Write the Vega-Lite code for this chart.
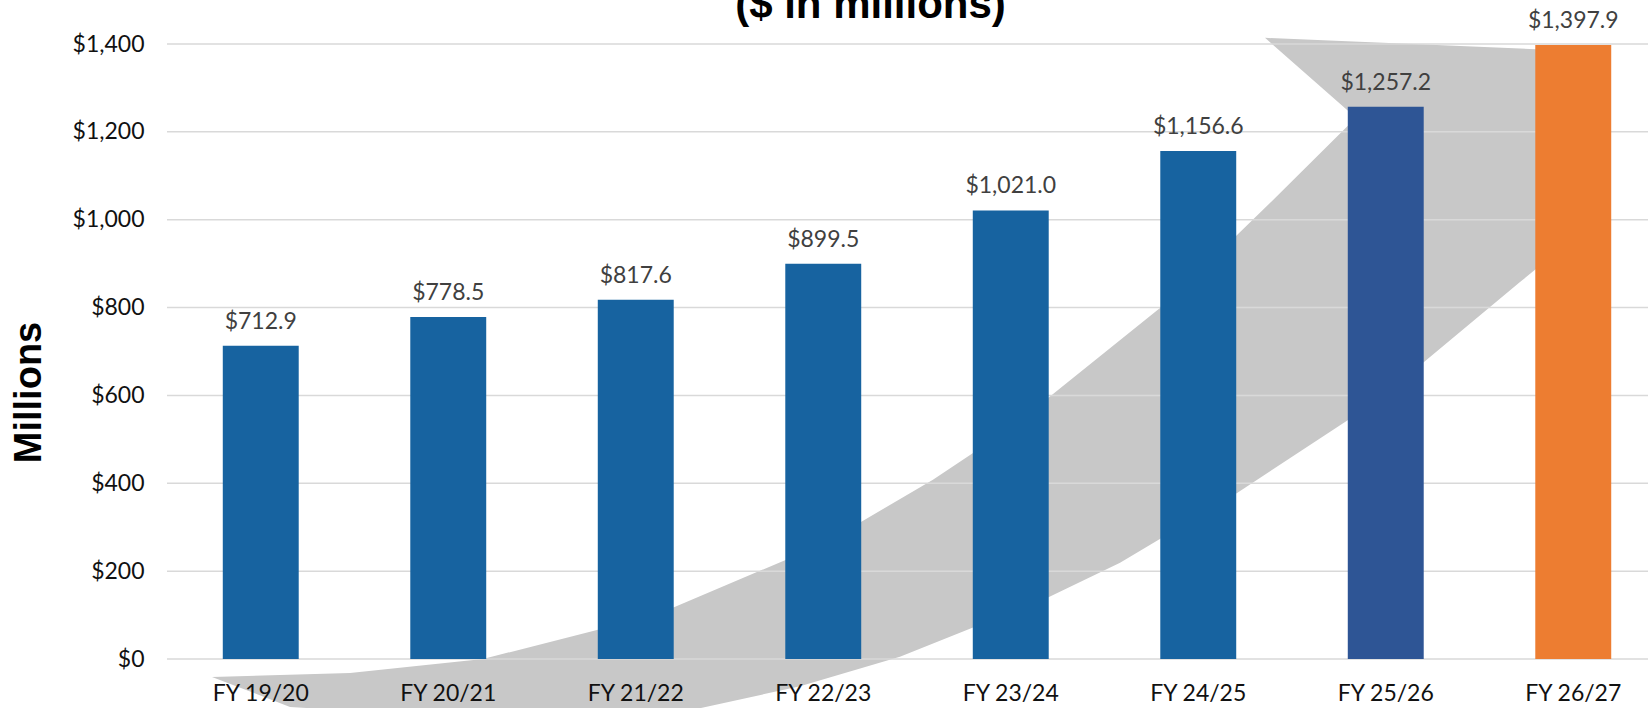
{
  "$schema": "https://vega.github.io/schema/vega-lite/v6.json",
  "width": 1481,
  "height": 615,
  "autosize": "none",
  "padding": {"left": 167, "top": 44, "right": 0, "bottom": 49},
  "background": "white",
  "title": {
    "text": "($ in millions)",
    "font": "Liberation Sans",
    "fontWeight": "bold",
    "fontSize": 42,
    "color": "#000000",
    "anchor": "middle",
    "frame": "group",
    "baseline": "alphabetic",
    "offset": 0,
    "dx": -37,
    "dy": 50
  },
  "config": {"view": {"stroke": null}},
  "datasets": {
    "bars": [
      {"fy": "FY 19/20", "value": 712.9},
      {"fy": "FY 20/21", "value": 778.5},
      {"fy": "FY 21/22", "value": 817.6},
      {"fy": "FY 22/23", "value": 899.5},
      {"fy": "FY 23/24", "value": 1021.0},
      {"fy": "FY 24/25", "value": 1156.6},
      {"fy": "FY 25/26", "value": 1257.2},
      {"fy": "FY 26/27", "value": 1397.9}
    ],
    "grid": [{"v": 0}, {"v": 200}, {"v": 400}, {"v": 600}, {"v": 800}, {"v": 1000}, {"v": 1200}, {"v": 1400}],
    "arrow": [
      {"i": 0, "ax": 0.240, "ay": -41},
      {"i": 1, "ax": 0.976, "ay": -32},
      {"i": 2, "ax": 1.685, "ay": 0},
      {"i": 3, "ax": 2.293, "ay": 66},
      {"i": 4, "ax": 2.704, "ay": 118},
      {"i": 5, "ax": 3.296, "ay": 225},
      {"i": 6, "ax": 3.701, "ay": 312},
      {"i": 7, "ax": 4.085, "ay": 408},
      {"i": 8, "ax": 4.299, "ay": 469},
      {"i": 9, "ax": 4.704, "ay": 596},
      {"i": 10, "ax": 5.301, "ay": 801},
      {"i": 11, "ax": 5.707, "ay": 965},
      {"i": 12, "ax": 5.899, "ay": 1045},
      {"i": 13, "ax": 6.341, "ay": 1232},
      {"i": 14, "ax": 5.856, "ay": 1414},
      {"i": 15, "ax": 7.643, "ay": 1382},
      {"i": 16, "ax": 7.456, "ay": 942},
      {"i": 17, "ax": 7.216, "ay": 858},
      {"i": 18, "ax": 6.704, "ay": 676},
      {"i": 19, "ax": 6.299, "ay": 544},
      {"i": 20, "ax": 5.707, "ay": 378},
      {"i": 21, "ax": 5.083, "ay": 219},
      {"i": 22, "ax": 4.704, "ay": 141},
      {"i": 23, "ax": 3.909, "ay": 5},
      {"i": 24, "ax": 3.376, "ay": -62},
      {"i": 25, "ax": 2.843, "ay": -112},
      {"i": 26, "ax": 2.309, "ay": -130},
      {"i": 27, "ax": 1.509, "ay": -134},
      {"i": 28, "ax": 0.656, "ay": -109}
    ]
  },
  "layer": [
    {
      "data": {"name": "arrow"},
      "mark": {"type": "line", "fill": "#c8c8c8", "stroke": "#c8c8c8", "strokeWidth": 0, "interpolate": "linear"},
      "encoding": {
        "x": {"field": "ax", "type": "quantitative", "scale": {"domain": [0, 8], "range": [0, 1500], "nice": false, "zero": false}, "axis": null},
        "y": {
          "field": "ay", "type": "quantitative", "scale": {"domain": [0, 1400], "nice": false, "zero": false},
          "axis": {
            "title": "Millions", "titleFont": "Liberation Sans", "titleFontWeight": "bold", "titleFontSize": 38, "titleColor": "#000000",
            "titleAngle": 270, "titleX": -138, "titleY": 348, "titleAlign": "center", "titleBaseline": "middle",
            "values": [0, 200, 400, 600, 800, 1000, 1200, 1400], "format": "$,.0f",
            "domain": false, "ticks": false, "grid": false,
            "labelFont": "Lato", "labelFontSize": 23, "labelColor": "#111111", "labelPadding": 23
          }
        },
        "order": {"field": "i", "type": "quantitative"}
      }
    },
    {
      "layer": [
        {
          "data": {"name": "grid"},
          "mark": {"type": "rule", "color": "#d9d9d9", "strokeWidth": 1.5},
          "encoding": {
            "y": {"field": "v", "type": "quantitative"}
          }
        },
        {
          "data": {"name": "bars"},
          "mark": {"type": "bar"},
          "encoding": {
            "x": {
              "field": "fy", "type": "nominal", "sort": null,
              "scale": {"range": [0, 1500], "paddingInner": 0.595, "paddingOuter": 0.2975},
              "axis": {
                "title": null, "domain": false, "ticks": false, "grid": false, "zindex": 1,
                "labelAngle": 0, "labelFont": "Lato", "labelFontSize": 23, "labelColor": "#111111",
                "labelPadding": 41, "labelBaseline": "alphabetic"
              }
            },
            "y": {"field": "value", "type": "quantitative"},
            "color": {
              "field": "fy", "type": "nominal", "legend": null,
              "scale": {
                "domain": ["FY 19/20", "FY 20/21", "FY 21/22", "FY 22/23", "FY 23/24", "FY 24/25", "FY 25/26", "FY 26/27"],
                "range": ["#1763a0", "#1763a0", "#1763a0", "#1763a0", "#1763a0", "#1763a0", "#2e5595", "#ed7d31"]
              }
            }
          }
        },
        {
          "data": {"name": "bars"},
          "mark": {"type": "text", "font": "Lato", "fontSize": 23, "color": "#404040", "baseline": "alphabetic", "align": "center", "dy": -17},
          "encoding": {
            "x": {"field": "fy", "type": "nominal", "sort": null},
            "y": {"field": "value", "type": "quantitative"},
            "text": {"field": "value", "type": "quantitative", "format": "$,.1f"}
          }
        }
      ]
    }
  ],
  "resolve": {"scale": {"x": "independent"}}
}
